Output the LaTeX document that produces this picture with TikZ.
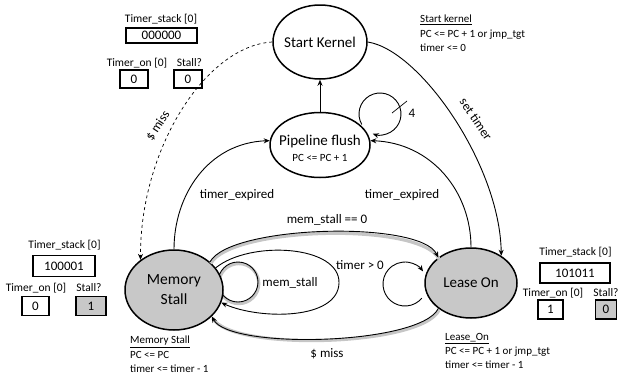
\documentclass[tikz,border=0pt]{standalone}
\usepackage{fontspec}
\setmainfont{Carlito}
\usetikzlibrary{shapes.geometric,arrows.meta,backgrounds}
\definecolor{stgray}{RGB}{200,200,200}
\begin{document}
\begin{tikzpicture}[x=1pt,y=-1pt,
  stateE/.style={ellipse, draw, line width=1.5pt, inner sep=0pt},
  conn/.style={line width=0.9pt, -{Stealth[length=6pt,width=5pt]}},
  plain/.style={line width=0.9pt},
  shadowc/.style={line width=3.2pt, draw=gray!45, transform canvas={xshift=0.8pt,yshift=-1.6pt}},
  valbox/.style={draw, line width=1.6pt, inner sep=0pt, font=\fontsize{13}{13}\selectfont},
  boxlbl/.style={font=\fontsize{11.5}{12}\selectfont, inner sep=0pt},
  edgelbl/.style={font=\fontsize{13}{14}\selectfont, inner sep=0pt},
  statetxt/.style={font=\fontsize{15}{20}\selectfont, align=center, inner sep=0pt},
  note/.style={font=\fontsize{11}{14.2}\selectfont, align=left, anchor=north west, inner sep=0pt}
]
\useasboundingbox (0,0) rectangle (618,381);

% states
\node[stateE, minimum width=94, minimum height=74] (sk) at (320,42) {};
\node[statetxt] (skt) at (sk.center) {Start Kernel};
\node[stateE, minimum width=100, minimum height=65] (pf) at (320,145) {};
\node[statetxt] (pft) at (320,141) {Pipeline flush};
\node[font=\fontsize{11}{12}\selectfont, inner sep=0pt] (pfs) at (320,158) {PC <= PC + 1};
\node[stateE, fill=stgray, minimum width=98, minimum height=80] (ms) at (174,290) {};
\node[statetxt, font=\fontsize{15.5}{20}\selectfont] (mst) at (ms.center) {Memory\\Stall};
\node[stateE, fill=stgray, minimum width=92, minimum height=70] (lo) at (471,283) {};
\node[statetxt] (lot) at (lo.center) {Lease On};

% small shadowed self loop on Memory Stall
\begin{scope}[on background layer]
  \draw[shadowc] (238,282) circle[radius=20];
  \draw[plain] (238,282) circle[radius=20];
\end{scope}

% connectors
\draw[conn] (pf.north) -- (sk.south);
\draw[conn, dashed, line width=0.7pt] (sk.west) .. controls (205,46) and (140,150) .. (ms.138);
\draw[conn] (sk.east) .. controls (420,50) and (500,165) .. (lo.42);
\draw[conn] (ms.north) .. controls (174,195) and (208,143) .. (pf.175);
\draw[conn] (lo.north) .. controls (471,192) and (432,143) .. (pf.5);

% shadowed arcs between Memory Stall and Lease On
\draw[shadowc] (ms.38) .. controls (230,225) and (420,220) .. (lo.142);
\draw[conn] (ms.38) .. controls (230,225) and (420,220) .. (lo.142);
\draw[shadowc] (lo.218) .. controls (420,345) and (230,350) .. (ms.325);
\draw[conn] (lo.218) .. controls (420,345) and (230,350) .. (ms.325);

% mem_stall oval loop
\draw[conn] (ms.28) .. controls (250,240) and (340,245) .. (339,283)
            .. controls (338,320) and (260,320) .. (ms.345);

% Lease On self loop
\draw[conn] ([shift={(40:22)}]405,284) arc[start angle=40, end angle=325, radius=22];

% Pipeline flush self loop
\draw[conn] ([shift={(150:21)}]380,114) arc[start angle=150, end angle=470, radius=21];
\draw[line width=0.7pt] (392,113) -- (407,101);

% edge labels
\node[edgelbl] (l4) at (412,113) {4};
\node[edgelbl, rotate=57] (lmiss1) at (158,126) {\$ miss};
\node[edgelbl, rotate=-56] (lset) at (476,119) {set timer};
\node[edgelbl] (lte1) at (237,195) {timer\_expired};
\node[edgelbl] (lte2) at (402,195) {timer\_expired};
\node[edgelbl] (lms0) at (327,220) {mem\_stall == 0};
\node[edgelbl] (lms) at (290,283) {mem\_stall};
\node[edgelbl] (ltg) at (360,265) {timer > 0};
\node[edgelbl] (lmiss2) at (327,354) {\$ miss};

% top-left register group
\node[boxlbl] (tsl1) at (161,19) {Timer\_stack [0]};
\node[valbox, minimum width=71, minimum height=15.5] (ts1) at (161.5,35.5) {000000};
\node[boxlbl] (tol1) at (137,63) {Timer\_on [0]};
\node[boxlbl] (sl1) at (189.5,63) {Stall?};
\node[valbox, minimum width=28, minimum height=18] (to1) at (134,79) {0};
\node[valbox, minimum width=28, minimum height=18] (sv1) at (188,79) {0};

% bottom-left register group
\node[boxlbl] (tsl2) at (64.5,245) {Timer\_stack [0]};
\node[valbox, minimum width=62, minimum height=21] (ts2) at (64,266) {100001};
\node[boxlbl] (tol2) at (36,288) {Timer\_on [0]};
\node[boxlbl] (sl2) at (89,288) {Stall?};
\node[valbox, minimum width=27, minimum height=19] (to2) at (35.5,306) {0};
\node[valbox, fill=stgray, minimum width=30, minimum height=19] (sv2) at (91,306) {1};

% bottom-right register group
\node[boxlbl] (tsl3) at (575.5,252) {Timer\_stack [0]};
\node[valbox, minimum width=70, minimum height=20] (ts3) at (575,273) {101011};
\node[boxlbl] (tol3) at (553,293) {Timer\_on [0]};
\node[boxlbl] (sl3) at (606,293) {Stall?};
\node[valbox, minimum width=25, minimum height=19] (to3) at (550.5,309.5) {1};
\node[valbox, fill=stgray, minimum width=21, minimum height=19] (sv3) at (606,309.5) {0};

% notes
\node[note] (nsk) at (420,15) {\underline{Start kernel}\\PC <= PC + 1 or jmp\_tgt\\timer <= 0};
\node[note] (nms) at (130,336) {\underline{Memory Stall}\\PC <= PC\\timer <= timer - 1};
\node[note] (nlo) at (445,333) {\underline{Lease\_On}\\PC <= PC + 1 or jmp\_tgt\\timer <= timer - 1};
\end{tikzpicture}
\end{document}
